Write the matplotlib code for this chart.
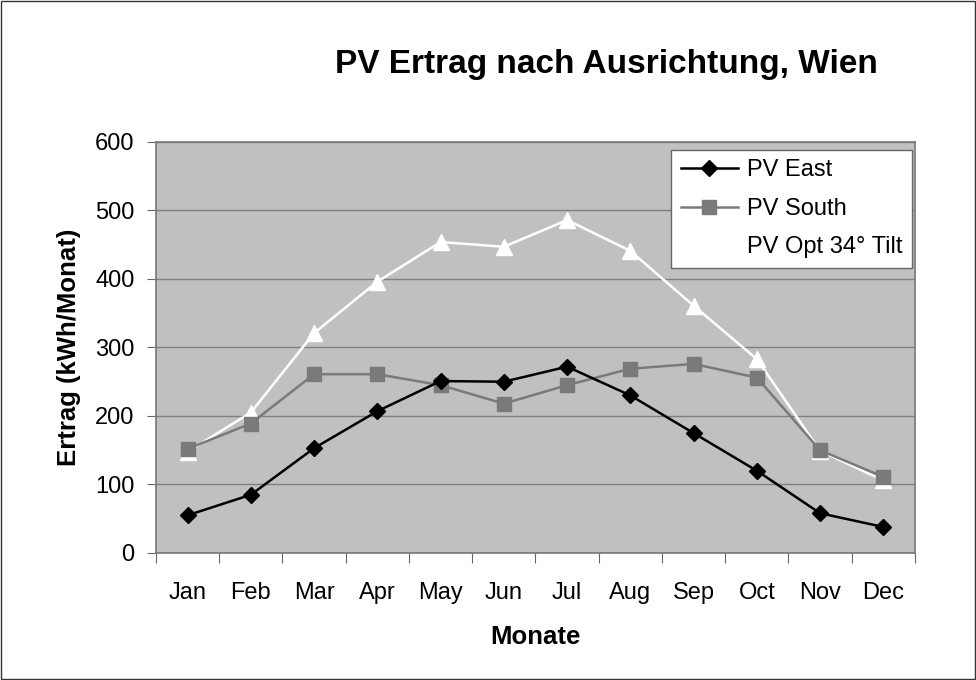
import matplotlib
matplotlib.use("Agg")
import matplotlib.pyplot as plt
import numpy as np
from matplotlib.patches import Rectangle

plt.rcParams['font.family'] = ['Liberation Sans', 'DejaVu Sans']

months = ["Jan", "Feb", "Mar", "Apr", "May", "Jun", "Jul", "Aug", "Sep", "Oct", "Nov", "Dec"]
pv_east = [55, 85, 153, 207, 251, 250, 272, 230, 175, 120, 58, 38]
pv_south = [152, 189, 261, 261, 245, 218, 245, 269, 276, 256, 150, 111]
pv_opt = [148, 205, 321, 396, 454, 447, 486, 441, 361, 283, 149, 106]
yticks = [0, 100, 200, 300, 400, 500, 600]

fig = plt.figure(figsize=(9.76, 6.8), dpi=100)
fig.patches.append(Rectangle((0.001, 0.001), 0.998, 0.997, transform=fig.transFigure,
                             fill=False, edgecolor='#333333', linewidth=1.0))
ax = fig.add_axes([0.1598, 0.1868, 0.9375 - 0.1598, 0.7912 - 0.1868])
ax.set_facecolor('#c0c0c0')

x = np.arange(len(months))
ax.plot(x, pv_east, color='black', marker='D', markersize=8.5, lw=1.8, label='PV East', zorder=5)
ax.plot(x, pv_south, color='#7a7a7a', marker='s', markersize=9.5, lw=1.8, label='PV South', zorder=4)
ax.plot(x, pv_opt, color='white', marker='^', markersize=11, lw=1.8, label='PV Opt 34° Tilt', zorder=3)

ax.set_xlim(-0.5, len(months) - 0.5)
ax.set_ylim(0, 600)
ax.set_yticks(yticks)
ax.set_yticklabels([str(v) for v in yticks], fontsize=17)
ax.yaxis.grid(True, color='#7f7f7f', linewidth=1.0)
ax.set_axisbelow(True)

ax.set_xticks(np.arange(-0.5, len(months), 1.0))
ax.set_xticklabels([])
ax.set_xticks(x, minor=True)
ax.set_xticklabels(months, minor=True, fontsize=17)
ax.tick_params(axis='x', which='minor', length=0, pad=21)
ax.tick_params(axis='x', which='major', length=7, color='#666666')
ax.tick_params(axis='y', length=6.5, color='#666666', pad=9)

for s in ax.spines.values():
    s.set_color('#777777')
    s.set_linewidth(1.2)

ax.set_xlabel('Monate', fontsize=18.5, fontweight='bold', labelpad=15)
ax.set_ylabel('Ertrag (kWh/Monat)', fontsize=18.5, fontweight='bold', labelpad=10)
fig.text(606 / 976, (680 - 73) / 680, 'PV Ertrag nach Ausrichtung, Wien', fontsize=24,
         fontweight='bold', ha='center', va='baseline')

leg = ax.legend(loc='upper right', bbox_to_anchor=((912 - 156) / 759, (553 - 150) / 411),
                fontsize=17, frameon=True, fancybox=False, borderaxespad=0.0,
                handlelength=2.4, handletextpad=0.4, labelspacing=0.7, borderpad=0.4)
leg.get_frame().set_edgecolor('#666666')
leg.get_frame().set_facecolor('white')
leg.get_frame().set_alpha(1.0)

fig.savefig('out.png', dpi=100)
